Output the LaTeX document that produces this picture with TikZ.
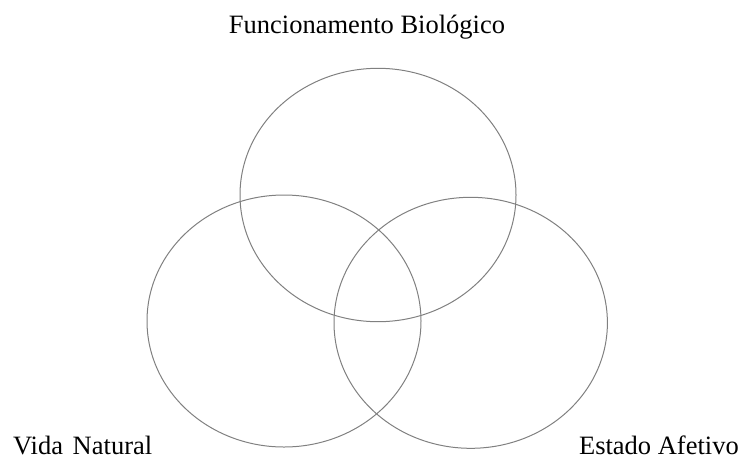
\documentclass[tikz,border=0pt]{standalone}
\usepackage{fontspec}
\setmainfont{Liberation Serif}
\begin{document}
\begin{tikzpicture}[x=1pt,y=-1pt,
  venn/.style={draw=black!50, line width=1pt},
  lbl/.style={inner sep=0pt, font=\fontsize{26.5}{30}\selectfont}]
\useasboundingbox (0,0) rectangle (744,459);
\draw[venn] (378,195) ellipse [x radius=138, y radius=126.7];
\draw[venn] (284,321) ellipse [x radius=137, y radius=126];
\draw[venn] (470.7,322.8) ellipse [x radius=136.7, y radius=125.5];
\node[lbl, anchor=base] (fb) at (367,33) {Funcionamento Biológico};
\node[lbl, text depth=0pt, anchor=base west] (vn) at (13,454) {Vida\hspace{3pt} Natural};
\node[lbl, text depth=0pt, anchor=base east] (ea) at (739,454) {Estado Afetivo};
\end{tikzpicture}
\end{document}
